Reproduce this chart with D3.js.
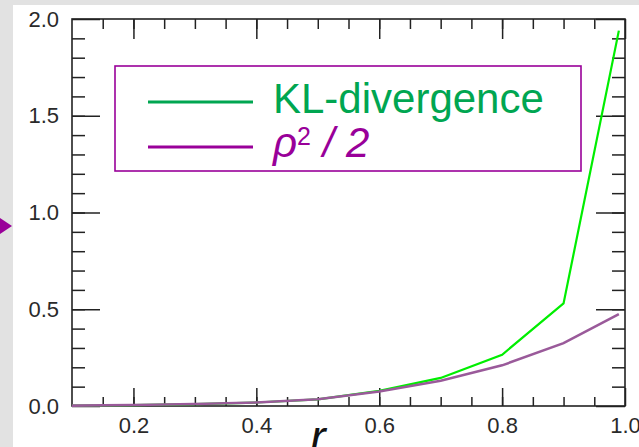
<!DOCTYPE html>
<html>
<head>
<meta charset="UTF-8">
<style>
  body { margin: 0; background: #e2e2e2; }
  text { font-family: "Liberation Sans", Arial, Helvetica, sans-serif; }
</style>
</head>
<body>
<script src="https://d3js.org/d3.v7.min.js"></script>
<div id="chart"></div>
<script>

// values
var r   = [0.1,   0.2,   0.3,  0.4,   0.5,   0.6,   0.7,   0.8,   0.9,  0.99];
var kl  = [0.002, 0.005, 0.01, 0.018, 0.034, 0.078, 0.145, 0.265, 0.53, 1.94];
var rho = [0.002, 0.005, 0.01, 0.018, 0.035, 0.075, 0.13,  0.21,  0.325, 0.475];

var xMajor = [0.2, 0.4, 0.6, 0.8, 1.0];
var xMinor = d3.range(0.15, 1.0, 0.05);
var yMajor = [0, 0.5, 1.0, 1.5, 2.0];
var yMinor = d3.range(0.1, 2.0, 0.1);

var W = 639, H = 447;
var margin = {top: 19, right: 14, bottom: 41, left: 72},
  width = W - margin.left - margin.right,
  height = H - margin.top - margin.bottom;

var svg = d3.select("#chart")
  .append("svg")
    .attr("width", W)
    .attr("height", H);

// white sheet over the grey backdrop
svg.append("rect")
  .attr("x", 13).attr("y", 5)
  .attr("width", W - 13).attr("height", H - 5)
  .attr("fill", "#fff");

// little purple pointer on the left edge
svg.append("path")
  .attr("d", "M0,218L12,226L0,234Z")
  .attr("fill", "#990099");

var g = svg.append("g")
  .attr("transform", "translate(" + margin.left + "," + margin.top + ")");

var x = d3.scaleLinear().domain([0.1, 1.0]).range([0, width]);
var y = d3.scaleLinear().domain([0, 2.0]).range([height, 0]);

function tidy(sel) {
  sel.select(".domain").remove();
  sel.selectAll("line").attr("stroke", "#222").attr("stroke-width", 1.5);
  sel.selectAll("text").attr("fill", "#2a2a2a").style("font-size", "22px");
}

// ticks point inward on all four sides
g.append("g").attr("transform", "translate(0," + height + ")")
  .call(d3.axisBottom(x).tickValues(xMinor).tickSizeInner(-9).tickSizeOuter(0).tickFormat(""))
  .call(tidy);
g.append("g").attr("transform", "translate(0," + height + ")")
  .call(d3.axisBottom(x).tickValues(xMajor).tickSizeInner(-18).tickSizeOuter(0)
    .tickPadding(11).tickFormat(d3.format(".1f")))
  .call(tidy);
g.append("g")
  .call(d3.axisTop(x).tickValues(xMinor).tickSizeInner(-10).tickSizeOuter(0).tickFormat(""))
  .call(tidy);
g.append("g")
  .call(d3.axisTop(x).tickValues(xMajor).tickSizeInner(-20).tickSizeOuter(0).tickFormat(""))
  .call(tidy);

g.append("g")
  .call(d3.axisLeft(y).tickValues(yMinor).tickSizeInner(-13).tickSizeOuter(0).tickFormat(""))
  .call(tidy);
g.append("g")
  .call(d3.axisLeft(y).tickValues(yMajor).tickSizeInner(-28).tickSizeOuter(0)
    .tickPadding(13).tickFormat(d3.format(".1f")))
  .call(tidy);
g.append("g").attr("transform", "translate(" + width + ",0)")
  .call(d3.axisRight(y).tickValues(yMinor).tickSizeInner(-13).tickSizeOuter(0).tickFormat(""))
  .call(tidy);
g.append("g").attr("transform", "translate(" + width + ",0)")
  .call(d3.axisRight(y).tickValues(yMajor).tickSizeInner(-29).tickSizeOuter(0).tickFormat(""))
  .call(tidy);

// frame
g.append("rect")
  .attr("width", width).attr("height", height)
  .attr("fill", "none").attr("stroke", "#222").attr("stroke-width", 1.6);

// curves
var line = d3.line()
  .x(function(d) { return x(d[0]); })
  .y(function(d) { return y(d[1]); });

g.append("path")
  .datum(d3.zip(r, kl))
  .attr("d", line)
  .attr("fill", "none").attr("stroke", "#00ee00").attr("stroke-width", 2.2);

g.append("path")
  .datum(d3.zip(r, rho))
  .attr("d", line)
  .attr("fill", "none").attr("stroke", "#9a5a9a").attr("stroke-width", 2.6);

// x label
svg.append("text")
  .attr("x", 318).attr("y", 453)
  .attr("text-anchor", "middle")
  .style("font-size", "46px").style("font-style", "italic")
  .attr("fill", "#111")
  .text("r");

// legend
var leg = svg.append("g");
leg.append("rect")
  .attr("x", 115).attr("y", 66).attr("width", 466).attr("height", 105)
  .attr("fill", "#fff").attr("stroke", "#990099").attr("stroke-width", 1.6);

leg.append("line")
  .attr("x1", 148).attr("x2", 253).attr("y1", 102).attr("y2", 102)
  .attr("stroke", "#00a651").attr("stroke-width", 3);
leg.append("line")
  .attr("x1", 148).attr("x2", 253).attr("y1", 147).attr("y2", 147)
  .attr("stroke", "#990099").attr("stroke-width", 3);

leg.append("text")
  .attr("x", 273).attr("y", 113)
  .style("font-size", "42px")
  .attr("fill", "#00a651")
  .text("KL-divergence");

var t2 = leg.append("text")
  .attr("x", 273).attr("y", 157)
  .style("font-size", "42px").style("font-style", "italic")
  .attr("fill", "#990099");
t2.append("tspan").text("\u03C1");
t2.append("tspan").attr("dy", -12).style("font-size", "25px").style("font-style", "normal").text("2");
t2.append("tspan").attr("dy", 12).text(" / 2");

</script>
</body>
</html>
